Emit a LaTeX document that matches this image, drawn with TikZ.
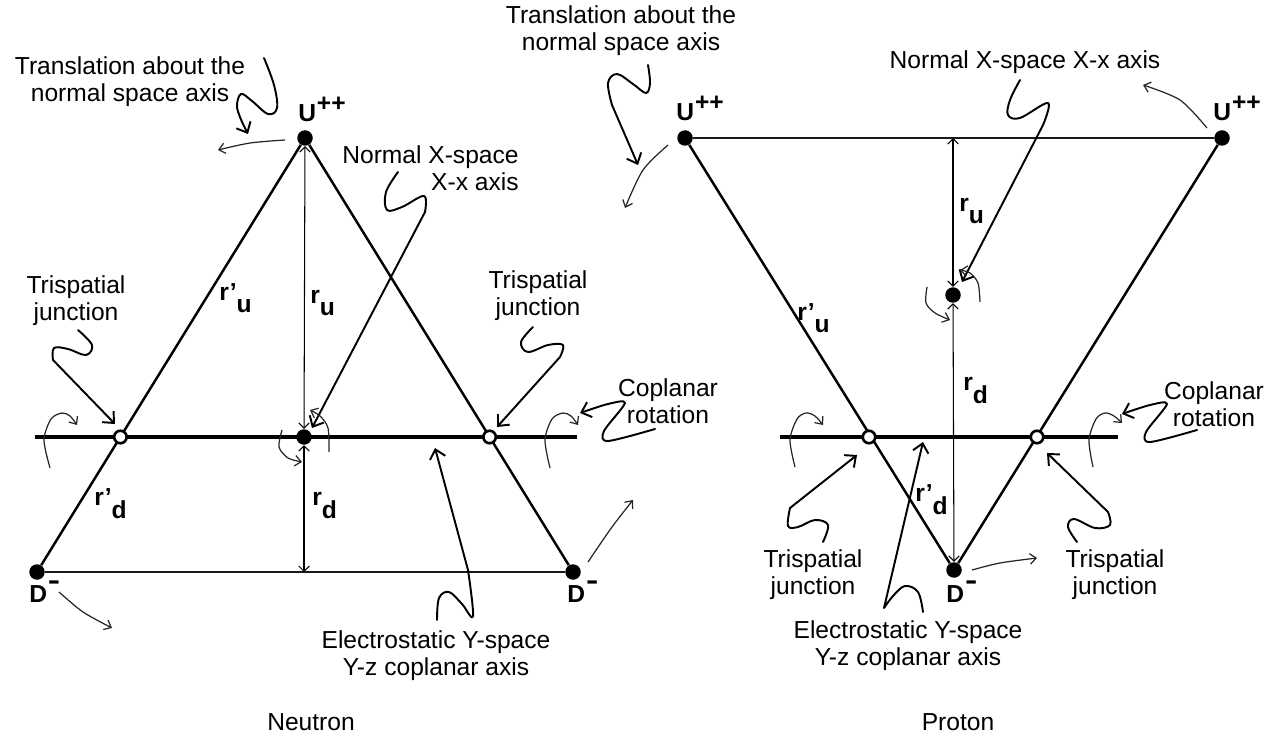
\documentclass[tikz,border=0pt]{standalone}
\usepackage{fontspec}
\setmainfont{Liberation Sans}
\usetikzlibrary{arrows.meta}
\newcommand\ulab{\bfseries U\kern0.5pt\raisebox{0.42em}{++}}
\newcommand\dlab{\bfseries D\kern0.5pt\raisebox{0.52em}{\scalebox{1.5}[1.1]{-}}}
\newcommand\rlab[2]{\bfseries\raisebox{0.5em}{#1}#2}
\begin{document}
\begin{tikzpicture}[x=0.02cm,y=-0.02cm,
  ann/.style={font=\fontsize{14}{15.3}\selectfont, align=center, inner sep=0pt},
  lab/.style={font=\fontsize{14}{14}\selectfont, inner sep=0pt},
  dotn/.style={circle, fill=black, inner sep=0pt, minimum size=0.31cm},
  junc/.style={circle, draw=black, fill=white, line width=1.5pt, inner sep=0pt, minimum size=0.25cm},
  edge/.style={line width=1.4pt},
  axisl/.style={line width=2.3pt},
  baseln/.style={line width=1.6pt, black!90},
  dim/.style={line width=0.6pt, {Straight Barb[length=3pt,width=6pt]}-{Straight Barb[length=3pt,width=6pt]}},
  rot/.style={line width=0.7pt, black!85, -{Straight Barb[length=3.5pt,width=6pt]}},
  squig/.style={line width=1.1pt, line cap=round, line join=round, -{Straight Barb[length=5pt,width=9pt]}}
]
\useasboundingbox (0,0) rectangle (1277,736);

% ================= NEUTRON =================
\coordinate (nAl) at (35,437);
\coordinate (nAr) at (577,437);
\coordinate (nB) at (304,572);
\node[dotn] (nU) at (305,138) {};
\node[dotn] (nDl) at (37,572) {};
\node[dotn] (nDr) at (573,572) {};
\draw[axisl] (nAl) -- (nAr);
\draw[edge] (nU) -- (nDl);
\draw[edge] (nU) -- (nDr);
\draw[baseln] (nDl) -- (nDr);
\node[dotn] (nC) at (304,437) {};
\node[junc] (nJl) at (120.4,437) {};
\node[junc] (nJr) at (489.6,437) {};
\draw[dim] (nU) -- (nC);
\draw[dim] (nC) -- (nB);

\node[lab, anchor=base west] (nUl) at (298,122) {\ulab};
\node[lab, anchor=base west] (nDll) at (29,602) {\dlab};
\node[lab, anchor=base west] (nDrl) at (567,602) {\dlab};
\node[lab, anchor=base west] (nrpu) at (219,313) {\rlab{r'}{u}};
\node[lab, anchor=base west] (nru) at (310,316) {\rlab{r}{u}};
\node[lab, anchor=base west] (nrpd) at (94,518) {\rlab{r'}{d}};
\node[lab, anchor=base west] (nrd) at (312,518) {\rlab{r}{d}};

\node[ann] (nTrans) at (130,82) {Translation about the\\normal space axis};
\node[ann, align=right, anchor=east] (nNorm) at (519,168) {Normal X-space\\X-x axis};
\node[ann] (nTrL) at (76,301) {Trispatial\\junction};
\node[ann] (nTrR) at (538,296) {Trispatial\\junction};
\node[ann] (nCop) at (668,401) {Coplanar\\rotation};
\node[ann] (nElec) at (436,656) {Electrostatic Y-space\\Y-z coplanar axis};
\node[ann] (nNeut) at (311,722) {Neutron};

% squiggle pointers
\draw[squig] plot[smooth, tension=0.6] coordinates {(264,58) (274,85) (277,108) (268,114) (252,101) (241,94) (237,107) (243,124)} -- (248,134);
\draw[squig] plot[smooth, tension=0.6] coordinates {(398,172) (386,192) (387,210) (402,207) (424,196) (425,212)} -- (312,428);
\draw[squig] plot[smooth, tension=0.6] coordinates {(78,330) (92,345) (86,355) (68,349) (54,348) (53,360)} -- (115,424);
\draw[squig] plot[smooth, tension=0.6] coordinates {(533,327) (521,342) (528,352) (548,345) (563,345) (560,357)} -- (497,427);
\draw[squig] plot[smooth, tension=0.5] coordinates {(655,429) (608,441) (604,431) (625,403) (608,404) (580,413)};
\draw[squig] plot[smooth, tension=0.6] coordinates {(437,620) (439,598) (449,592) (462,604) (473,616) (468,570)} -- (435,448);

% thin rotation arrows
\draw[rot] plot[smooth] coordinates {(285,140) (250,143) (218,150)};
\draw[rot] plot[smooth] coordinates {(50,468) (44,440) (51,419) (62,413) (70,416) (77,425)};
\draw[rot] plot[smooth] coordinates {(550,468) (545,440) (552,419) (563,413) (571,416) (578,425)};
\draw[rot] plot[smooth] coordinates {(282,430) (279,447) (288,458) (302,462)};
\draw[rot] plot[smooth] coordinates {(329,452) (328,428) (320,416) (310,410)};
\draw[rot] plot[smooth] coordinates {(59,592) (83,612) (112,628)};
\draw[rot] plot[smooth] coordinates {(588,562) (612,527) (633,500)};

% ================= PROTON =================
\coordinate (pAl) at (780,437);
\coordinate (pAr) at (1118,437);
\coordinate (pT) at (953,138);
\node[dotn] (pUl) at (685,138) {};
\node[dotn] (pUr) at (1222,138) {};
\node[dotn] (pD) at (954,570) {};
\draw[axisl] (pAl) -- (pAr);
\draw[edge] (pUl) -- (pD);
\draw[edge] (pUr) -- (pD);
\draw[baseln] (pUl) -- (pUr);
\node[dotn] (pC) at (953,295) {};
\node[junc] (pJl) at (869,437) {};
\node[junc] (pJr) at (1037,437) {};
\draw[dim] (pT) -- (pC);
\draw[dim] (pC) -- (pD);

\node[lab, anchor=base west] (pUll) at (676,121) {\ulab};
\node[lab, anchor=base west] (pUrl) at (1213,121) {\ulab};
\node[lab, anchor=base west] (pDl) at (946,602) {\dlab};
\node[lab, anchor=base west] (prpu) at (797,333) {\rlab{r'}{u}};
\node[lab, anchor=base west] (pru) at (959,224) {\rlab{r}{u}};
\node[lab, anchor=base west] (prd) at (963,403) {\rlab{r}{d}};
\node[lab, anchor=base west] (prpd) at (915,514) {\rlab{r'}{d}};

\node[ann] (pTrans) at (621,31) {Translation about the\\normal space axis};
\node[ann] (pNorm) at (1025,62) {Normal X-space X-x axis};
\node[ann] (pTrL) at (813,575) {Trispatial\\junction};
\node[ann] (pTrR) at (1115,575) {Trispatial\\junction};
\node[ann] (pCop) at (1214,404) {Coplanar\\rotation};
\node[ann] (pElec) at (908,646) {Electrostatic Y-space\\Y-z coplanar axis};
\node[ann] (pProt) at (958,722) {Proton};

\draw[squig] plot[smooth, tension=0.6] coordinates {(648,65) (650,83) (646,93) (633,84) (617,74) (608,83) (612,105)} -- (638,165);
\draw[squig] plot[smooth, tension=0.6] coordinates {(1020,80) (1010,100) (1008,115) (1020,118) (1048,103) (1043,125)} -- (962,282);
\draw[squig] plot[smooth, tension=0.6] coordinates {(823,542) (828,525) (815,520) (798,527) (788,526) (790,508)} -- (857,455);
\draw[squig] plot[smooth, tension=0.6] coordinates {(1077,542) (1068,527) (1074,519) (1095,528) (1110,525) (1108,512)} -- (1047,453);
\draw[squig] plot[smooth, tension=0.5] coordinates {(1197,430) (1150,442) (1146,432) (1167,404) (1150,405) (1122,414)};
\draw[squig] plot[smooth, tension=0.6] coordinates {(923,612) (918,592) (905,586) (893,596) (884,608)} -- (923,442);

\draw[rot] plot[smooth] coordinates {(668,145) (643,170) (625,208)};
\draw[rot] plot[smooth] coordinates {(1207,128) (1180,100) (1143,85)};
\draw[rot] plot[smooth] coordinates {(795,467) (790,440) (797,419) (806,413) (815,416) (823,425)};
\draw[rot] plot[smooth] coordinates {(1093,467) (1089,440) (1096,419) (1105,413) (1114,416) (1122,423)};
\draw[rot] plot[smooth] coordinates {(927,287) (926,303) (935,313) (950,320)};
\draw[rot] plot[smooth] coordinates {(980,302) (978,283) (970,273) (960,270)};
\draw[rot] plot[smooth] coordinates {(972,570) (1000,563) (1037,558)};
\end{tikzpicture}
\end{document}
